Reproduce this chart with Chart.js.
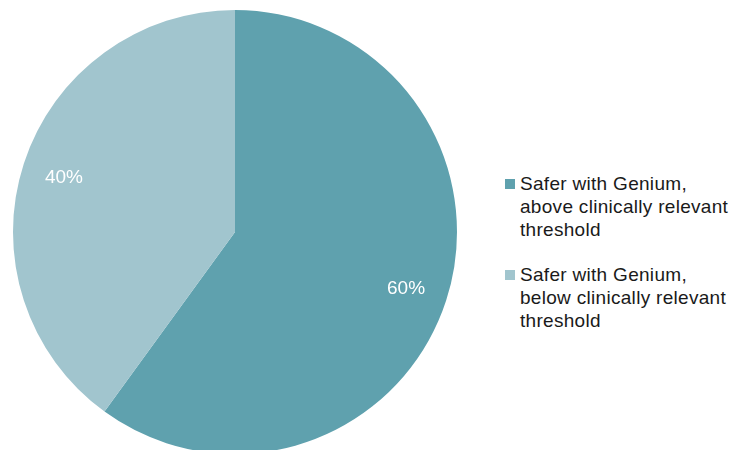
<!DOCTYPE html>
<html>
<head>
<meta charset="utf-8">
<script src="https://cdn.jsdelivr.net/npm/chart.js@4.4.0/dist/chart.umd.min.js"></script>
<style>
  html, body { margin: 0; padding: 0; background: #fff; overflow: hidden; }
  #wrap { position: relative; width: 737px; height: 450px; overflow: hidden; }
  #chartBox { position: absolute; left: 0; top: 0; width: 470px; height: 456px; }
  #legend { position: absolute; left: 505px; top: 172px; font-family: "Liberation Sans", Arial, sans-serif;
            font-size: 19px; line-height: 23px; letter-spacing: 0.3px; color: #1a1a1a; }
  .item { position: relative; padding-left: 15px; margin-bottom: 22px; white-space: nowrap; }
  .swatch { position: absolute; left: 0; top: 7px; width: 10px; height: 10px; }
</style>
</head>
<body>
<div id="wrap">
  <div id="chartBox"><canvas id="pie"></canvas></div>
  <div id="legend"></div>
</div>
<script>
const categories = [
  ["Safer with Genium,", "above clinically relevant", "threshold"],
  ["Safer with Genium,", "below clinically relevant", "threshold"]
];
const shares = [60, 40];
const colors = ["#5fa1ae", "#a1c5ce"];

// percentage labels inside each slice
const sliceLabels = {
  id: "sliceLabels",
  afterDatasetsDraw(chart) {
    const ctx = chart.ctx;
    const meta = chart.getDatasetMeta(0);
    ctx.save();
    ctx.fillStyle = "#ffffff";
    ctx.font = '19px "Liberation Sans", Arial, sans-serif';
    ctx.textAlign = "center";
    ctx.textBaseline = "middle";
    meta.data.forEach((arc, i) => {
      const mid = (arc.startAngle + arc.endAngle) / 2;
      const r = arc.outerRadius * 0.81;
      ctx.fillText(shares[i] + "%", arc.x + Math.cos(mid) * r, arc.y + Math.sin(mid) * r + 1);
    });
    ctx.restore();
  }
};

new Chart(document.getElementById("pie"), {
  type: "pie",
  data: {
    labels: categories.map(c => c.join(" ")),
    datasets: [{
      data: shares,
      backgroundColor: colors,
      borderWidth: 0
    }]
  },
  options: {
    responsive: true,
    maintainAspectRatio: false,
    animation: false,
    layout: { padding: { left: 13, right: 13, top: 10, bottom: 2 } },
    plugins: {
      legend: { display: false },
      tooltip: { enabled: false }
    }
  },
  plugins: [sliceLabels]
});

const legend = document.getElementById("legend");
categories.forEach((lines, i) => {
  const item = document.createElement("div");
  item.className = "item";
  const sw = document.createElement("span");
  sw.className = "swatch";
  sw.style.background = colors[i];
  item.appendChild(sw);
  lines.forEach((t, j) => {
    if (j) item.appendChild(document.createElement("br"));
    item.appendChild(document.createTextNode(t));
  });
  legend.appendChild(item);
});
</script>
</body>
</html>
